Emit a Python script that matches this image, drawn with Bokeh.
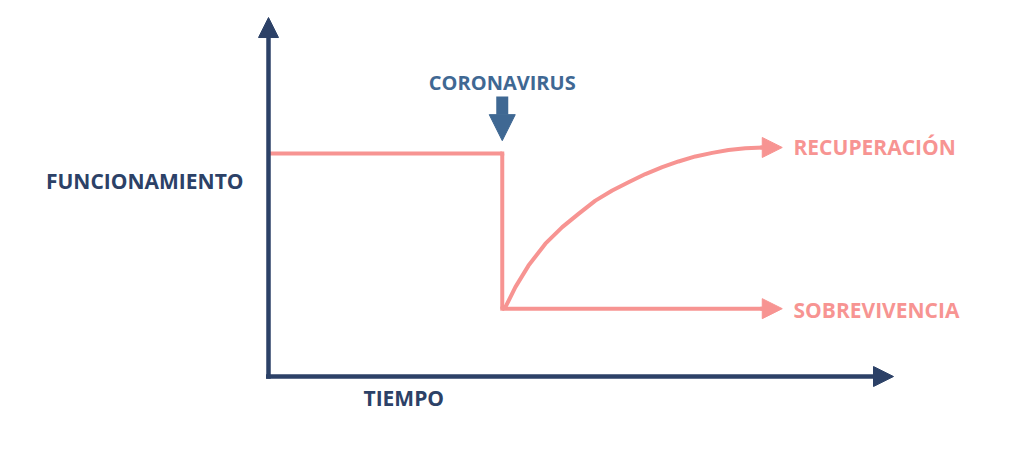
from bokeh.plotting import figure
from bokeh.models import Range1d, Arrow, NormalHead
from bokeh.core.properties import value
from bokeh.embed import file_html
from bokeh.resources import INLINE

# ---- data (time units 0..100, performance units 0..100) ----
axis_time_max = 100.0
axis_perf_max = 100.0
shock_time = 37.4
perf_before = 62.1
perf_after = 18.9
arrow_end_time = 82.2

pre_time = [0.0, shock_time]
pre_perf = [perf_before, perf_before]
drop_time = [shock_time, shock_time]
drop_perf = [perf_before, perf_after]
survive_time = [shock_time, 79.2]
survive_perf = [perf_after, perf_after]
recover_time = [37.4, 37.9, 39.5, 41.6, 44.3, 47.0, 49.6, 52.3, 55.0, 57.6,
                60.3, 63.0, 65.6, 68.3, 71.0, 73.6, 76.3, 79.2]
recover_perf = [18.9, 19.3, 24.9, 30.9, 37.0, 41.6, 45.3, 49.0, 51.8, 54.1,
                56.4, 58.3, 59.9, 61.3, 62.3, 63.1, 63.6, 63.8]
recover_end_perf = 63.8
virus_arrow_top = 78.0
virus_arrow_tip = 65.7

labels_y = "FUNCIONAMIENTO"
labels_x = "TIEMPO"
label_event = "CORONAVIRUS"
label_recover = "RECUPERACIÓN"
label_survive = "SOBREVIVENCIA"

# ---- styles ----
NAVY = "#2c4167"
PINK = "#f79492"
STEEL = "#3f6893"
FONT = value("Open Sans")
FS = "21px"

p = figure(width=1008, height=442, output_backend="svg", toolbar_location=None,
           x_range=Range1d(-42.88, 118.4), y_range=Range1d(-18.38, 104.74),
           min_border=0, background_fill_color="white", border_fill_color="white")
p.axis.visible = False
p.grid.visible = False
p.outline_line_color = None

# axes with arrowheads
p.add_layout(Arrow(x_start=0, y_start=-0.6, x_end=0, y_end=axis_perf_max,
                   line_color=NAVY, line_width=4.5,
                   end=NormalHead(size=20, fill_color=NAVY, line_color=NAVY, line_width=1)))
p.add_layout(Arrow(x_start=-0.4, y_start=0, x_end=axis_time_max, y_end=0,
                   line_color=NAVY, line_width=4.5,
                   end=NormalHead(size=20, fill_color=NAVY, line_color=NAVY, line_width=1)))

# performance line
p.line(pre_time, pre_perf, line_color=PINK, line_width=4)
p.line(drop_time, drop_perf, line_color=PINK, line_width=4)
p.line(survive_time, survive_perf, line_color=PINK, line_width=4)
p.line(recover_time, recover_perf, line_color=PINK, line_width=4, line_join="round")
# square corners
p.scatter([shock_time, shock_time], [perf_before, perf_after], marker="square", size=4,
          fill_color=PINK, line_color=None)

p.add_layout(Arrow(x_start=survive_time[-1] - 0.5, y_start=perf_after,
                   x_end=arrow_end_time, y_end=perf_after,
                   line_color=PINK, line_width=4,
                   end=NormalHead(size=20, fill_color=PINK, line_color=PINK, line_width=1)))
p.add_layout(Arrow(x_start=recover_time[-1] - 0.5, y_start=recover_end_perf,
                   x_end=arrow_end_time, y_end=recover_end_perf,
                   line_color=PINK, line_width=4,
                   end=NormalHead(size=20, fill_color=PINK, line_color=PINK, line_width=1)))

# coronavirus block arrow
p.add_layout(Arrow(x_start=shock_time, y_start=virus_arrow_top,
                   x_end=shock_time, y_end=virus_arrow_tip,
                   line_color=STEEL, line_width=12,
                   end=NormalHead(size=26, fill_color=STEEL, line_color=STEEL, line_width=1)))

# labels
p.text(x=[-4.0], y=[54.6], text=[labels_y], text_color=NAVY, text_font=FONT,
       text_font_size=FS, text_font_style="bold", text_align="right", text_baseline="alphabetic")
p.text(x=[15.2], y=[-6.1], text=[labels_x], text_color=NAVY, text_font=FONT,
       text_font_size=FS, text_font_style="bold", text_align="left", text_baseline="alphabetic")
p.text(x=[shock_time], y=[81.9], text=[label_event], text_color=STEEL, text_font=FONT,
       text_font_size="20px", text_font_style="bold", text_align="center", text_baseline="alphabetic")
p.text(x=[84.0], y=[63.8], text=[label_recover], text_color=PINK, text_font=FONT,
       text_font_size=FS, text_font_style="bold", text_align="left", text_baseline="alphabetic")
p.text(x=[84.0], y=[18.6], text=[label_survive], text_color=PINK, text_font=FONT,
       text_font_size=FS, text_font_style="bold", text_align="left", text_baseline="alphabetic")

open("out.html", "w").write(file_html(p, INLINE))
